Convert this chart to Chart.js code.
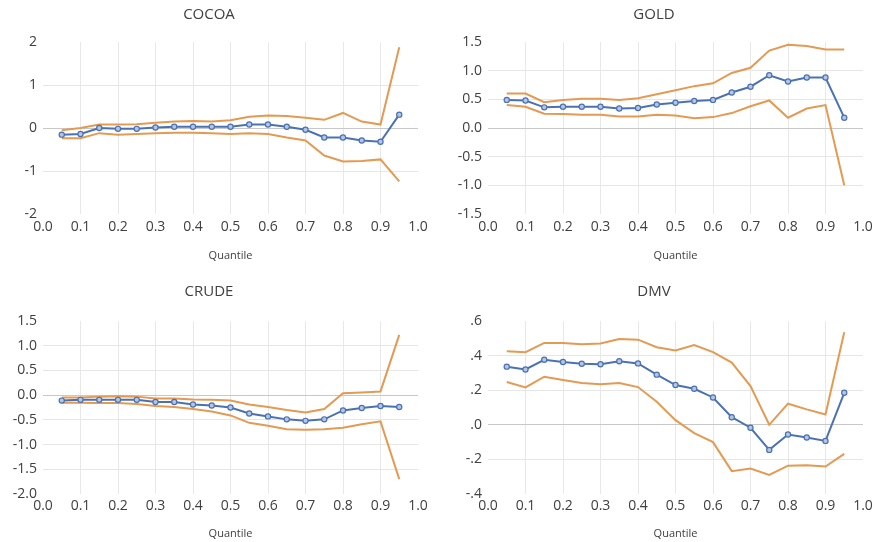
<!DOCTYPE html>
<html lang="en">
<head>
  <meta charset="UTF-8" />
  <title>Quantile coefficients</title>
  <script src="https://cdn.jsdelivr.net/npm/chart.js"></script>
  <style>
    body {
      margin: 0;
      background: #fff;
    }
    #wrap {
      position: relative;
      width: 890px;
      height: 542px;
    }
    canvas {
      position: absolute;
    }
  </style>
</head>
<body>
  <div id="wrap">
    <canvas id="cocoa" width="445" height="271" style="left:0;top:0"></canvas>
    <canvas id="gold" width="445" height="271" style="left:445px;top:0"></canvas>
    <canvas id="crude" width="445" height="271" style="left:0;top:271px"></canvas>
    <canvas id="dmv" width="445" height="271" style="left:445px;top:271px"></canvas>
  </div>

  <script>
  const quantiles = [0.05, 0.1, 0.15, 0.2, 0.25, 0.3, 0.35, 0.4, 0.45, 0.5, 0.55, 0.6, 0.65, 0.7, 0.75, 0.8, 0.85, 0.9, 0.95];

  const cocoaCoef  = [-0.155, -0.14, 0.0, -0.02, -0.02, 0.01, 0.03, 0.03, 0.03, 0.03, 0.08, 0.08, 0.03, -0.04, -0.22, -0.22, -0.29, -0.32, 0.31];
  const cocoaUpper = [-0.05, 0.0, 0.08, 0.08, 0.09, 0.12, 0.15, 0.16, 0.15, 0.18, 0.26, 0.29, 0.28, 0.24, 0.19, 0.35, 0.15, 0.08, 1.88];
  const cocoaLower = [-0.24, -0.24, -0.12, -0.155, -0.14, -0.12, -0.11, -0.11, -0.12, -0.14, -0.12, -0.14, -0.22, -0.29, -0.64, -0.78, -0.77, -0.73, -1.24];

  const goldCoef  = [0.49, 0.48, 0.36, 0.37, 0.37, 0.37, 0.34, 0.35, 0.41, 0.44, 0.47, 0.49, 0.62, 0.72, 0.92, 0.81, 0.88, 0.88, 0.18];
  const goldUpper = [0.60, 0.60, 0.45, 0.49, 0.51, 0.51, 0.49, 0.52, 0.59, 0.66, 0.73, 0.78, 0.96, 1.05, 1.35, 1.45, 1.43, 1.37, 1.37];
  const goldLower = [0.40, 0.37, 0.25, 0.245, 0.23, 0.23, 0.20, 0.20, 0.23, 0.22, 0.17, 0.19, 0.26, 0.38, 0.48, 0.18, 0.34, 0.40, -1.0];

  const crudeCoef  = [-0.11, -0.095, -0.095, -0.095, -0.095, -0.14, -0.14, -0.19, -0.21, -0.25, -0.37, -0.43, -0.49, -0.52, -0.49, -0.31, -0.26, -0.22, -0.24];
  const crudeUpper = [-0.05, -0.05, -0.03, -0.02, -0.03, -0.07, -0.07, -0.09, -0.095, -0.11, -0.19, -0.24, -0.30, -0.35, -0.28, 0.04, 0.055, 0.075, 1.22];
  const crudeLower = [-0.155, -0.155, -0.16, -0.16, -0.18, -0.22, -0.24, -0.28, -0.33, -0.41, -0.56, -0.62, -0.69, -0.70, -0.69, -0.66, -0.59, -0.53, -1.70];

  const dmvCoef  = [0.336, 0.32, 0.376, 0.363, 0.353, 0.35, 0.367, 0.355, 0.29, 0.23, 0.208, 0.158, 0.044, -0.017, -0.145, -0.056, -0.073, -0.093, 0.185];
  const dmvUpper = [0.425, 0.42, 0.473, 0.473, 0.465, 0.47, 0.496, 0.492, 0.448, 0.43, 0.461, 0.42, 0.36, 0.224, 0.0, 0.122, 0.089, 0.06, 0.535];
  const dmvLower = [0.247, 0.216, 0.278, 0.259, 0.241, 0.234, 0.241, 0.218, 0.133, 0.027, -0.048, -0.10, -0.268, -0.253, -0.29, -0.236, -0.234, -0.241, -0.168];

  const blue = '#4a72b2';
  const orange = '#e39a52';
  const fontFamily = '"Open Sans", "Noto Sans", sans-serif';

  const pts = arr => arr.map((v, i) => ({ x: quantiles[i], y: v }));

  // row settings: title padding, x axis height, tick padding, x title padding
  const rows = {
    top:    { titleTop: 6,  titleBottom: 18, axisH: 57, tickPad: 5, qPad: 9 },
    bottom: { titleTop: 12, titleBottom: 20, axisH: 48, tickPad: 4, qPad: 2 }
  };

  function makeChart(id, title, coef, upper, lower, yMin, yMax, yStep, fmt, row) {
    const r = rows[row];
    new Chart(document.getElementById(id), {
      type: 'line',
      data: {
        datasets: [{
          data: pts(coef),
          borderColor: blue,
          backgroundColor: '#b4c6e4',
          pointBorderColor: blue,
          pointBorderWidth: 1.2,
          pointRadius: 2.6,
          borderWidth: 2,
          tension: 0
        }, {
          data: pts(upper),
          borderColor: orange,
          pointRadius: 0,
          borderWidth: 2,
          tension: 0
        }, {
          data: pts(lower),
          borderColor: orange,
          pointRadius: 0,
          borderWidth: 2,
          tension: 0
        }]
      },
      options: {
        responsive: false,
        animation: false,
        devicePixelRatio: 1,
        layout: { padding: { left: 0, right: 27, top: 0, bottom: 0 } },
        plugins: {
          legend: { display: false },
          tooltip: { enabled: false },
          title: {
            display: true,
            text: title,
            color: '#404040',
            font: { family: fontFamily, size: 15, weight: 'normal' },
            padding: { top: r.titleTop, bottom: r.titleBottom }
          }
        },
        scales: {
          x: {
            type: 'linear',
            min: 0,
            max: 1,
            border: { display: false },
            grid: {
              drawTicks: false,
              color: ctx => (ctx.tick && (ctx.tick.value <= 0.001 || ctx.tick.value >= 0.999)) ? 'rgba(0,0,0,0)' : '#e8e8e8'
            },
            ticks: {
              stepSize: 0.1,
              padding: r.tickPad,
              color: '#404040',
              font: { family: fontFamily, size: 14 },
              callback: v => v.toFixed(1)
            },
            title: {
              display: true,
              text: 'Quantile',
              color: '#404040',
              font: { family: fontFamily, size: 11 },
              padding: { top: 0, bottom: r.qPad }
            },
            afterFit: s => { s.height = r.axisH; }
          },
          y: {
            min: yMin,
            max: yMax,
            border: { display: false },
            grid: {
              drawTicks: false,
              color: ctx => {
                const v = ctx.tick ? ctx.tick.value : 0;
                if (Math.abs(v - yMin) < 1e-6 || Math.abs(v - yMax) < 1e-6) return 'rgba(0,0,0,0)';
                return Math.abs(v) < 1e-6 ? '#c8c8c8' : '#e6e6e6';
              }
            },
            ticks: {
              stepSize: yStep,
              padding: 6,
              color: '#404040',
              font: { family: fontFamily, size: 14 },
              callback: fmt
            },
            afterFit: s => { s.width = 43; }
          }
        }
      }
    });
  }

  const intFmt = v => Math.round(v).toString();
  const oneDec = v => (Math.abs(v) < 1e-9 ? 0 : v).toFixed(1);
  const noLead = v => (Math.abs(v) < 1e-9 ? 0 : v).toFixed(1).replace(/^(-?)0\./, '$1.');

  makeChart('cocoa', 'COCOA', cocoaCoef, cocoaUpper, cocoaLower, -2, 2, 1, intFmt, 'top');
  makeChart('gold', 'GOLD', goldCoef, goldUpper, goldLower, -1.5, 1.5, 0.5, oneDec, 'top');
  makeChart('crude', 'CRUDE', crudeCoef, crudeUpper, crudeLower, -2, 1.5, 0.5, oneDec, 'bottom');
  makeChart('dmv', 'DMV', dmvCoef, dmvUpper, dmvLower, -0.4, 0.6, 0.2, noLead, 'bottom');
  </script>
</body>
</html>
